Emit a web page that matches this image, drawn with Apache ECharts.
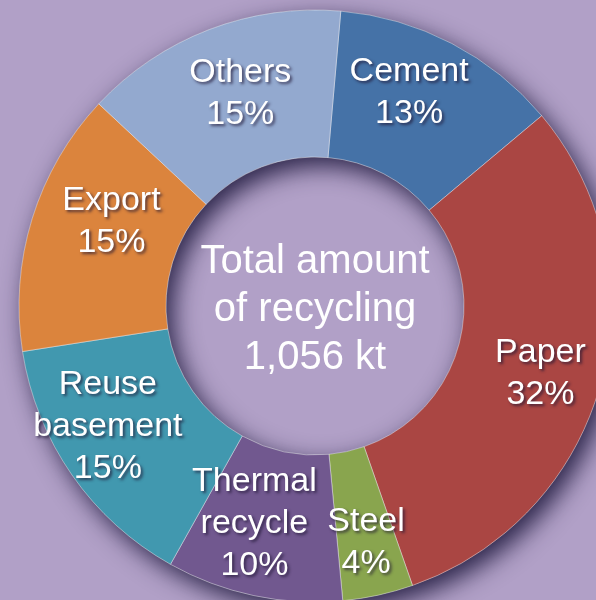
<!DOCTYPE html>
<html>
<head>
<meta charset="utf-8">
<style>
  html, body { margin: 0; padding: 0; background: #b1a0c7; }
  #chart { width: 596px; height: 600px; }
</style>
<script src="https://cdn.jsdelivr.net/npm/echarts@6/dist/echarts.min.js"></script>
</head>
<body>
<div id="chart"></div>
<script>
// Breakdown of recycled material (share of total, %)
const categories = ['Cement', 'Paper', 'Steel', 'Thermal\nrecycle', 'Reuse\nbasement', 'Export', 'Others'];
const shares = [13, 32, 4, 10, 15, 15, 15];
const centerLines = ['Total amount', 'of recycling', '1,056 kt'];

const colors = ['#4572a7', '#aa4643', '#89a54e', '#71588f', '#4198af', '#db843d', '#93a9cf'];
// small per-label nudges so each label sits comfortably inside its slice
const labelNudge = [[-10, -13], [8, 8], [3, 16], [-14, -3], [-22, -8], [12, -18], [6, -2]];

const FONT = "'Liberation Sans', Arial, sans-serif";
const CX = 315, CY = 306, R0 = 149, R1 = 296;

const chart = echarts.init(document.getElementById('chart'), null, { renderer: 'canvas' });

const textShadow = {
  textShadowColor: 'rgba(30, 20, 50, 0.7)',
  textShadowBlur: 3,
  textShadowOffsetX: 2,
  textShadowOffsetY: 2
};

chart.setOption({
  backgroundColor: '#b1a0c7',
  animation: false,
  graphic: [{
    type: 'text',
    x: CX,
    y: 310,
    z: 100,
    style: {
      text: centerLines.join('\n'),
      fill: '#ffffff',
      font: '40px ' + FONT,
      lineHeight: 48,
      align: 'center',
      verticalAlign: 'middle',
      shadowColor: 'rgba(30,20,50,0.7)',
      shadowBlur: 3,
      shadowOffsetX: 2,
      shadowOffsetY: 2
    }
  }],
  series: [
    {
      // full ring underneath, only there to cast the drop shadow
      type: 'pie',
      silent: true,
      center: [CX, CY],
      radius: [R0, R1],
      startAngle: 85,
      label: { show: false },
      labelLine: { show: false },
      itemStyle: {
        color: '#6f6a88',
        shadowColor: 'rgba(35, 28, 65, 0.95)',
        shadowBlur: 24,
        shadowOffsetX: 7,
        shadowOffsetY: 9
      },
      data: [{ value: 1, name: '' }],
      z: 1
    },
    {
      type: 'pie',
      center: [CX, CY],
      radius: [R0, R1],
      startAngle: 85,
      clockwise: true,
      avoidLabelOverlap: false,
      silent: true,
      itemStyle: {
        borderColor: 'rgba(255,255,255,0.5)',
        borderWidth: 0.8
      },
      label: Object.assign({
        show: true,
        position: 'inside',
        color: '#ffffff',
        fontFamily: FONT,
        fontSize: 34,
        lineHeight: 42,
        align: 'center',
        formatter: p => p.name + '\n' + p.value + '%'
      }, textShadow),
      labelLine: { show: false },
      labelLayout: p => ({ dx: labelNudge[p.dataIndex][0], dy: labelNudge[p.dataIndex][1] }),
      data: categories.map((c, i) => ({
        name: c,
        value: shares[i],
        itemStyle: { color: colors[i] }
      })),
      z: 2
    }
  ]
});
</script>
</body>
</html>
